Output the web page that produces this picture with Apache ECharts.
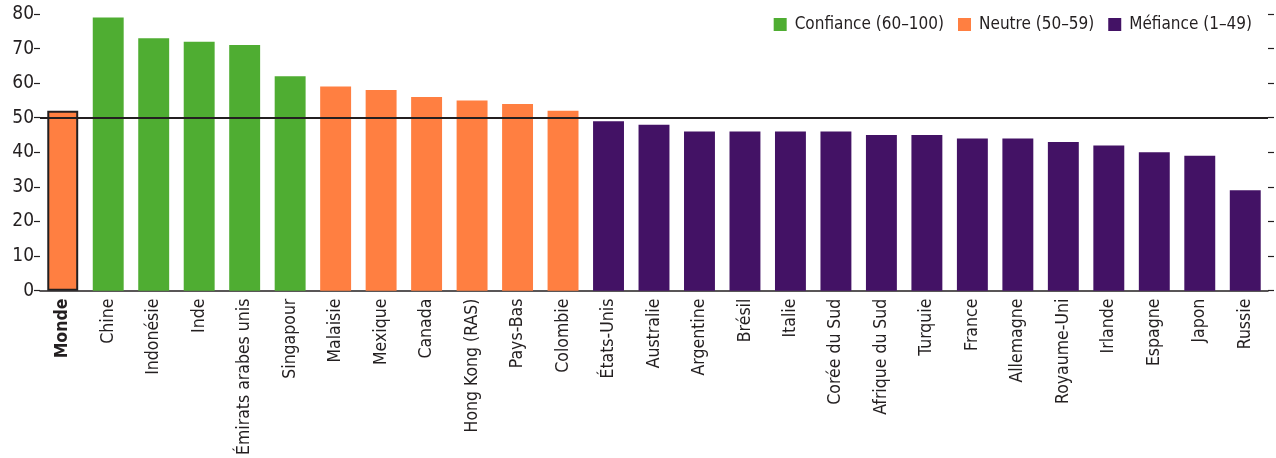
<!DOCTYPE html>
<html><head><meta charset="utf-8">
<script src="https://cdn.jsdelivr.net/npm/echarts@6/dist/echarts.min.js"></script>
<style>html,body{margin:0;padding:0;background:#fff}#c{width:1276px;height:458px}</style>
</head><body><div id="c"></div>
<script>
const categories = ["Monde","Chine","Indonésie","Inde","Émirats arabes unis","Singapour","Malaisie","Mexique","Canada","Hong Kong (RAS)","Pays-Bas","Colombie","États-Unis","Australie","Argentine","Brésil","Italie","Corée du Sud","Afrique du Sud","Turquie","France","Allemagne","Royaume-Uni","Irlande","Espagne","Japon","Russie"];
const values = [52,79,73,72,71,62,59,58,56,55,54,52,49,48,46,46,46,46,45,45,44,44,43,42,40,39,29];
const groups = ["N","C","C","C","C","C","N","N","N","N","N","N","M","M","M","M","M","M","M","M","M","M","M","M","M","M","M"];
const seriesNames = {C:"Confiance (60–100)", N:"Neutre (50–59)", M:"Méfiance (1–49)"};
const seriesColors = {C:"#4fad32", N:"#ff7f41", M:"#431265"};
const yTicks = [0,10,20,30,40,50,60,70,80];
const refLine = 50;

const FONT = "'Liberation Sans Narrow','Arial Narrow','DejaVu Sans Condensed',sans-serif";
const chart = echarts.init(document.getElementById('c'));

function seriesFor(g){
  return {
    name: seriesNames[g], type:'bar', stack:'s', z:3,
    barCategoryGap:'32%',
    itemStyle:{color:seriesColors[g]},
    data: values.map((v,i)=>{
      if(groups[i]!==g) return null;
      if(categories[i]==="Monde") return {value:v,itemStyle:{color:seriesColors[g],borderColor:'#231f20',borderWidth:2}};
      return v;
    })
  };
}

chart.setOption({
  animation:false,
  grid:{left:40,right:8,top:14,bottom:166,containLabel:false},
  legend:{
    right:19, top:11, itemWidth:13, itemHeight:13, itemGap:14,
    icon:'rect',
    data:[seriesNames.C,seriesNames.N,seriesNames.M],
    textStyle:{fontFamily:FONT,fontSize:17,color:'#231f20',padding:[0,0,0,3]}
  },
  xAxis:{
    type:'category', data:categories,
    axisLine:{lineStyle:{color:'#231f20',width:1.5}},
    axisTick:{inside:true,length:7,lineStyle:{color:'#231f20',width:1.2}},
    axisLabel:{rotate:90,interval:0,fontFamily:FONT,fontSize:17.5,color:'#231f20',margin:8,
      formatter:v=>v==="Monde"?'{b|'+v+'}':v,
      rich:{b:{fontWeight:'bold',fontFamily:FONT,fontSize:17.5,color:'#231f20'}}}
  },
  yAxis:[{
    type:'value', min:yTicks[0], max:yTicks[yTicks.length-1], interval:10,
    axisLine:{show:false}, splitLine:{show:false},
    axisTick:{show:true,length:6,lineStyle:{color:'#231f20',width:1.2}},
    axisLabel:{fontFamily:FONT,fontSize:19,color:'#231f20',margin:6}
  },{
    type:'value', position:'right', min:yTicks[0], max:yTicks[yTicks.length-1], interval:10,
    axisLine:{show:false}, splitLine:{show:false},
    axisTick:{show:true,length:6,lineStyle:{color:'#231f20',width:1.2}},
    axisLabel:{show:false}
  }],
  series:[
    seriesFor('C'), seriesFor('N'), seriesFor('M'),
    {type:'line', data:[], z:1, silent:true,
     markLine:{symbol:'none',silent:true,label:{show:false},
       lineStyle:{color:'#231f20',width:2,type:'solid'},
       data:[{yAxis:refLine}]}}
  ]
});
</script></body></html>
